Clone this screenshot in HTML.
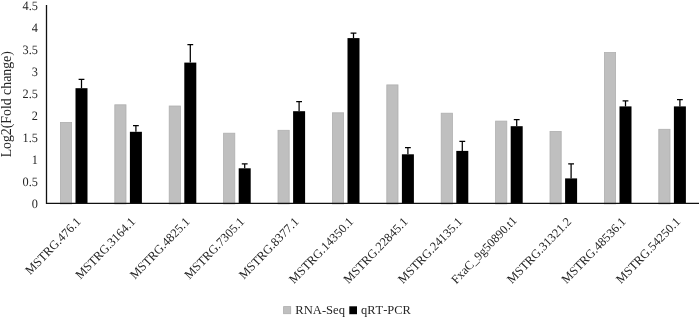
<!DOCTYPE html>
<html><head><meta charset="utf-8"><title>chart</title>
<style>
html,body{margin:0;padding:0;background:#fff;}
body{width:700px;height:318px;overflow:hidden;}
svg{display:block;}
text{font-family:"Liberation Serif",serif;font-size:12px;fill:#262626;font-kerning:none;}
</style></head><body>
<svg width="700" height="318" viewBox="0 0 700 318">
<rect width="700" height="318" fill="#fff"/>

<rect x="60.40" y="122.40" width="11.2" height="81.50" fill="#bfbfbf" stroke="#b0b0b0" stroke-width="0.8"/>
<rect x="75.50" y="88.20" width="12" height="115.30" fill="#000"/>
<path d="M81.50 88.20V79.30M78.60 79.30H84.40" stroke="#000" stroke-width="1.25" fill="none"/>
<rect x="114.80" y="104.80" width="11.2" height="99.10" fill="#bfbfbf" stroke="#b0b0b0" stroke-width="0.8"/>
<rect x="129.90" y="131.80" width="12" height="71.70" fill="#000"/>
<path d="M135.90 131.80V125.50M133.00 125.50H138.80" stroke="#000" stroke-width="1.25" fill="none"/>
<rect x="169.20" y="106.00" width="11.2" height="97.90" fill="#bfbfbf" stroke="#b0b0b0" stroke-width="0.8"/>
<rect x="184.30" y="62.60" width="12" height="140.90" fill="#000"/>
<path d="M190.30 62.60V44.50M187.40 44.50H193.20" stroke="#000" stroke-width="1.25" fill="none"/>
<rect x="223.60" y="133.20" width="11.2" height="70.70" fill="#bfbfbf" stroke="#b0b0b0" stroke-width="0.8"/>
<rect x="238.70" y="168.30" width="12" height="35.20" fill="#000"/>
<path d="M244.70 168.30V163.90M241.80 163.90H247.60" stroke="#000" stroke-width="1.25" fill="none"/>
<rect x="278.00" y="130.30" width="11.2" height="73.60" fill="#bfbfbf" stroke="#b0b0b0" stroke-width="0.8"/>
<rect x="293.10" y="111.20" width="12" height="92.30" fill="#000"/>
<path d="M299.10 111.20V101.70M296.20 101.70H302.00" stroke="#000" stroke-width="1.25" fill="none"/>
<rect x="332.40" y="112.80" width="11.2" height="91.10" fill="#bfbfbf" stroke="#b0b0b0" stroke-width="0.8"/>
<rect x="347.50" y="38.10" width="12" height="165.40" fill="#000"/>
<path d="M353.50 38.10V33.10M350.60 33.10H356.40" stroke="#000" stroke-width="1.25" fill="none"/>
<rect x="386.80" y="84.90" width="11.2" height="119.00" fill="#bfbfbf" stroke="#b0b0b0" stroke-width="0.8"/>
<rect x="401.90" y="154.30" width="12" height="49.20" fill="#000"/>
<path d="M407.90 154.30V147.70M405.00 147.70H410.80" stroke="#000" stroke-width="1.25" fill="none"/>
<rect x="441.20" y="113.20" width="11.2" height="90.70" fill="#bfbfbf" stroke="#b0b0b0" stroke-width="0.8"/>
<rect x="456.30" y="150.90" width="12" height="52.60" fill="#000"/>
<path d="M462.30 150.90V141.40M459.40 141.40H465.20" stroke="#000" stroke-width="1.25" fill="none"/>
<rect x="495.60" y="121.10" width="11.2" height="82.80" fill="#bfbfbf" stroke="#b0b0b0" stroke-width="0.8"/>
<rect x="510.70" y="126.20" width="12" height="77.30" fill="#000"/>
<path d="M516.70 126.20V119.70M513.80 119.70H519.60" stroke="#000" stroke-width="1.25" fill="none"/>
<rect x="550.00" y="131.40" width="11.2" height="72.50" fill="#bfbfbf" stroke="#b0b0b0" stroke-width="0.8"/>
<rect x="565.10" y="178.40" width="12" height="25.10" fill="#000"/>
<path d="M571.10 178.40V163.90M568.20 163.90H574.00" stroke="#000" stroke-width="1.25" fill="none"/>
<rect x="604.40" y="52.50" width="11.2" height="151.40" fill="#bfbfbf" stroke="#b0b0b0" stroke-width="0.8"/>
<rect x="619.50" y="106.40" width="12" height="97.10" fill="#000"/>
<path d="M625.50 106.40V100.90M622.60 100.90H628.40" stroke="#000" stroke-width="1.25" fill="none"/>
<rect x="658.80" y="129.30" width="11.2" height="74.60" fill="#bfbfbf" stroke="#b0b0b0" stroke-width="0.8"/>
<rect x="673.90" y="106.40" width="12" height="97.10" fill="#000"/>
<path d="M679.90 106.40V99.50M677.00 99.50H682.80" stroke="#000" stroke-width="1.25" fill="none"/>
<path d="M46.5 5V203.4H699" stroke="#111" stroke-width="1.3" fill="none"/>
<text transform="translate(37.9,207.85) scale(1,1.04)" text-anchor="end" style="font-size:12.3px;text-rendering:geometricPrecision">0</text>
<text transform="translate(37.9,185.82) scale(1,1.04)" text-anchor="end" style="font-size:12.3px;text-rendering:geometricPrecision">0.5</text>
<text transform="translate(37.9,163.79) scale(1,1.04)" text-anchor="end" style="font-size:12.3px;text-rendering:geometricPrecision">1</text>
<text transform="translate(37.9,141.76) scale(1,1.04)" text-anchor="end" style="font-size:12.3px;text-rendering:geometricPrecision">1.5</text>
<text transform="translate(37.9,119.73) scale(1,1.04)" text-anchor="end" style="font-size:12.3px;text-rendering:geometricPrecision">2</text>
<text transform="translate(37.9,97.70) scale(1,1.04)" text-anchor="end" style="font-size:12.3px;text-rendering:geometricPrecision">2.5</text>
<text transform="translate(37.9,75.67) scale(1,1.04)" text-anchor="end" style="font-size:12.3px;text-rendering:geometricPrecision">3</text>
<text transform="translate(37.9,53.64) scale(1,1.04)" text-anchor="end" style="font-size:12.3px;text-rendering:geometricPrecision">3.5</text>
<text transform="translate(37.9,31.61) scale(1,1.04)" text-anchor="end" style="font-size:12.3px;text-rendering:geometricPrecision">4</text>
<text transform="translate(37.9,9.58) scale(1,1.04)" text-anchor="end" style="font-size:12.3px;text-rendering:geometricPrecision">4.5</text>
<text transform="translate(11.0,104.3) rotate(-90)" text-anchor="middle" style="font-size:13.8px">Log2(Fold change)</text>
<text transform="translate(81.50,222.4) rotate(-45.9)" text-anchor="end" style="font-size:12.4px">MSTRG.476.1</text>
<text transform="translate(136.00,222.4) rotate(-45.9)" text-anchor="end" style="font-size:12.4px">MSTRG.3164.1</text>
<text transform="translate(190.50,222.4) rotate(-45.9)" text-anchor="end" style="font-size:12.4px">MSTRG.4825.1</text>
<text transform="translate(245.00,222.4) rotate(-45.9)" text-anchor="end" style="font-size:12.4px">MSTRG.7305.1</text>
<text transform="translate(299.50,222.4) rotate(-45.9)" text-anchor="end" style="font-size:12.4px">MSTRG.8377.1</text>
<text transform="translate(354.00,222.4) rotate(-45.9)" text-anchor="end" style="font-size:12.4px">MSTRG.14350.1</text>
<text transform="translate(408.50,222.4) rotate(-45.9)" text-anchor="end" style="font-size:12.4px">MSTRG.22845.1</text>
<text transform="translate(463.00,222.4) rotate(-45.9)" text-anchor="end" style="font-size:12.4px">MSTRG.24135.1</text>
<text transform="translate(517.50,221.1) rotate(-45.9)" text-anchor="end" style="font-size:12.25px">FxaC_9g50890.t1</text>
<text transform="translate(572.00,222.4) rotate(-45.9)" text-anchor="end" style="font-size:12.4px">MSTRG.31321.2</text>
<text transform="translate(626.50,222.4) rotate(-45.9)" text-anchor="end" style="font-size:12.4px">MSTRG.48536.1</text>
<text transform="translate(681.00,222.4) rotate(-45.9)" text-anchor="end" style="font-size:12.4px">MSTRG.54250.1</text>
<rect x="283.6" y="306.6" width="7.1" height="7.1" fill="#bfbfbf" stroke="#adadad" stroke-width="0.8"/>
<text x="295.3" y="314.3" style="font-size:12.6px">RNA-Seq</text>
<rect x="349.3" y="306.3" width="7.7" height="7.9" fill="#000"/>
<text x="361.1" y="314.3" style="font-size:12.45px">qRT-PCR</text>
</svg></body></html>
